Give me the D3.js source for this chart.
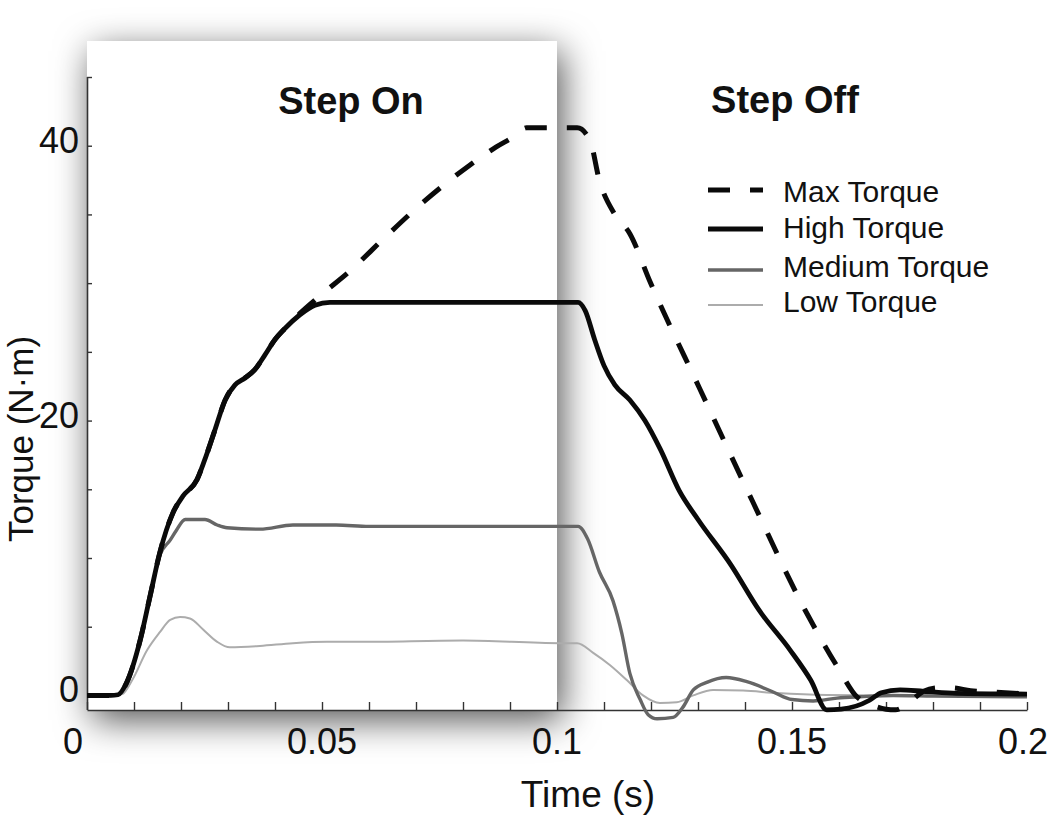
<!DOCTYPE html>
<html>
<head>
<meta charset="utf-8">
<script src="https://cdn.jsdelivr.net/npm/d3@7"></script>
<style>
  html, body { margin: 0; padding: 0; background: #fff; }
  svg { display: block; font-family: "Liberation Sans", Arial, Helvetica, sans-serif; }
</style>
</head>
<body>
<div id="chart"></div>
<script>
// ---------- DATA ----------
const xTickValues = [0, 0.01, 0.02, 0.03, 0.04, 0.05, 0.06, 0.07, 0.08, 0.09, 0.1, 0.11, 0.12, 0.13, 0.14, 0.15, 0.16, 0.17, 0.18, 0.19, 0.2];
const xTickLabels = ["0", "0.05", "0.1", "0.15", "0.2"];
const xLabelValues = [0, 0.05, 0.1, 0.15, 0.2];
const yTickValues = [0, 5, 10, 15, 20, 25, 30, 35, 40, 45];
const yLabelValues = [0, 20, 40];
const seriesNames = ["Max Torque", "High Torque", "Medium Torque", "Low Torque"];
const phaseLabels = ["Step On", "Step Off"];

const maxTime = [0, 0.005, 0.0066, 0.0084, 0.0113, 0.0134, 0.0155, 0.0183, 0.0204, 0.0234, 0.025, 0.0272, 0.0294, 0.0315, 0.0336, 0.0357, 0.0379, 0.04, 0.0421, 0.0453, 0.05, 0.056, 0.063, 0.0709, 0.0815, 0.087, 0.091, 0.0935, 0.1043, 0.107, 0.109, 0.1123, 0.1155, 0.1198, 0.1304, 0.1415, 0.1528, 0.1598, 0.1638, 0.167, 0.170, 0.172, 0.1755, 0.178, 0.181, 0.184, 0.188, 0.193, 0.2];
const maxTorque = [0, 0, 0.05, 0.9, 4, 7.2, 10.4, 13.3, 14.5, 15.7, 17.1, 19.3, 21.5, 22.6, 23.1, 23.7, 24.8, 25.9, 26.7, 27.8, 29.2, 30.9, 33.2, 35.7, 38.6, 39.9, 40.7, 41.3, 41.3, 40.4, 37.5, 35, 33.6, 30.1, 22.3, 14.2, 6.2, 2, -0.1, -0.7, -1.0, -1.05, -0.35, 0.3, 0.55, 0.55, 0.35, 0.25, 0.1];

const highTime = [0, 0.005, 0.0066, 0.0084, 0.0113, 0.0134, 0.0155, 0.0183, 0.0204, 0.0234, 0.025, 0.0272, 0.0294, 0.0315, 0.0336, 0.0357, 0.0379, 0.04, 0.0421, 0.0453, 0.0485, 0.0517, 0.07, 0.09, 0.1045, 0.106, 0.108, 0.110, 0.1123, 0.1155, 0.1187, 0.122, 0.126, 0.130, 0.137, 0.143, 0.1496, 0.154, 0.1574, 0.1605, 0.1665, 0.169, 0.173, 0.178, 0.185, 0.2];
const highTorque = [0, 0, 0.05, 0.9, 4, 7.2, 10.4, 13.3, 14.5, 15.7, 17.1, 19.3, 21.5, 22.6, 23.1, 23.7, 24.8, 25.9, 26.7, 27.7, 28.4, 28.6, 28.6, 28.6, 28.6, 28, 25.9, 24, 22.6, 21.5, 20, 17.9, 14.9, 12.8, 9.5, 6.2, 3.3, 1.1, -1.05, -1.0, -0.35, 0.2, 0.4, 0.3, 0.15, 0.1];

const mediumTime = [0, 0.005, 0.0066, 0.0084, 0.0113, 0.0134, 0.0155, 0.0177, 0.019, 0.0209, 0.0251, 0.0277, 0.0298, 0.0368, 0.0438, 0.053, 0.06, 0.08, 0.1, 0.1045, 0.1065, 0.109, 0.1119, 0.1138, 0.1155, 0.1177, 0.1194, 0.1213, 0.1247, 0.1268, 0.129, 0.132, 0.136, 0.1404, 0.146, 0.150, 0.1545, 0.1596, 0.1645, 0.1715, 0.18, 0.2];
const mediumTorque = [0, 0, 0.05, 0.9, 4, 7.2, 10.2, 11.3, 12, 12.8, 12.8, 12.4, 12.2, 12.1, 12.4, 12.4, 12.3, 12.3, 12.3, 12.3, 11.4, 9.0, 6.9, 4.5, 1.6, -0.3, -1.4, -1.7, -1.6, -0.85, 0.4, 0.97, 1.3, 1.0, 0.25, -0.3, -0.4, -0.2, -0.1, 0.0, -0.05, -0.1];

const lowTime = [0, 0.005, 0.0075, 0.0096, 0.0128, 0.0155, 0.0177, 0.0198, 0.0219, 0.0247, 0.0277, 0.0304, 0.0368, 0.0438, 0.051, 0.058, 0.08, 0.1006, 0.1043, 0.1077, 0.1113, 0.1149, 0.1183, 0.1219, 0.1255, 0.129, 0.1332, 0.1396, 0.1468, 0.1574, 0.1715, 0.2];
const lowTorque = [0, 0, 0.1, 1.1, 3.3, 4.6, 5.5, 5.7, 5.6, 4.8, 3.9, 3.5, 3.6, 3.8, 3.9, 3.9, 4.0, 3.8, 3.8, 3.1, 2.2, 1.1, 0.0, -0.55, -0.5, 0, 0.4, 0.35, 0.17, 0.03, 0, 0];

// ---------- LAYOUT ----------
const W = 1050, H = 815;
const svg = d3.select("#chart").append("svg").attr("width", W).attr("height", H);

const x = d3.scaleLinear().domain([0, 0.2]).range([87, 1027]);
const y = d3.scaleLinear().domain([-1.06, 45]).range([710, 77]);

const defs = svg.append("defs");
const f = defs.append("filter").attr("id", "shadow")
  .attr("x", "-40%").attr("y", "-40%").attr("width", "180%").attr("height", "180%");
f.append("feGaussianBlur").attr("in", "SourceAlpha").attr("stdDeviation", 18);
f.append("feOffset").attr("dx", 5).attr("dy", 10).attr("result", "ob");
f.append("feFlood").attr("flood-color", "#000").attr("flood-opacity", 0.68);
f.append("feComposite").attr("in2", "ob").attr("operator", "in").attr("result", "sh");
const fm = f.append("feMerge");
fm.append("feMergeNode").attr("in", "sh");
fm.append("feMergeNode").attr("in", "SourceGraphic");

// Step On panel
svg.append("rect")
  .attr("x", x(0)).attr("y", 41)
  .attr("width", x(0.1) - x(0)).attr("height", y(-1.06) - 41)
  .attr("fill", "#fff").attr("filter", "url(#shadow)");

// ---------- AXES ----------
const axisColor = "#333";
const xAxis = svg.append("g").attr("transform", `translate(0,${y(-1.06)})`)
  .call(d3.axisBottom(x).tickValues(xTickValues).tickSizeInner(-8).tickSizeOuter(0).tickFormat(""));
xAxis.select(".domain").attr("stroke", axisColor).attr("stroke-width", 1.6);
xAxis.selectAll(".tick line").attr("stroke", axisColor).attr("stroke-width", 1.4);

const yAxis = svg.append("g").attr("transform", `translate(${x(0)},0)`)
  .call(d3.axisLeft(y).tickValues(yTickValues).tickSizeInner(-5).tickSizeOuter(0).tickFormat(""));
yAxis.select(".domain").attr("stroke", axisColor).attr("stroke-width", 1.6)
  .attr("d", `M0.5,${y(45)}V${y(-1.06)}`);
yAxis.selectAll(".tick line").attr("stroke", axisColor).attr("stroke-width", 1.4);

// tick labels
svg.append("g").selectAll("text").data(xLabelValues).join("text")
  .attr("x", (d, i) => x(d) + (i === 0 ? -14 : (i === 4 ? -4 : 0)))
  .attr("y", 754)
  .attr("text-anchor", "middle")
  .attr("font-size", 36)
  .attr("fill", "#111")
  .text((d, i) => xTickLabels[i]);

svg.append("g").selectAll("text").data(yLabelValues).join("text")
  .attr("x", 79)
  .attr("y", d => y(d) + 7)
  .attr("text-anchor", "end")
  .attr("font-size", 36)
  .attr("fill", "#111")
  .text(d => String(d));

// axis titles
svg.append("text")
  .attr("x", 588).attr("y", 807)
  .attr("text-anchor", "middle").attr("font-size", 37).attr("fill", "#111")
  .text("Time (s)");
svg.append("text")
  .attr("transform", "translate(33,439) rotate(-90)")
  .attr("text-anchor", "middle").attr("font-size", 35).attr("fill", "#111")
  .text("Torque (N·m)");

// phase labels
svg.append("text").attr("x", 351).attr("y", 114).attr("text-anchor", "middle")
  .attr("font-size", 38).attr("font-weight", "bold").attr("fill", "#111").text(phaseLabels[0]);
svg.append("text").attr("x", 785).attr("y", 113).attr("text-anchor", "middle")
  .attr("font-size", 38).attr("font-weight", "bold").attr("fill", "#111").text(phaseLabels[1]);

// ---------- LINES ----------
const styles = [
  { color: "#0a0a0a", width: 5, dash: "22,20" },
  { color: "#0a0a0a", width: 4.8, dash: null },
  { color: "#666666", width: 3.4, dash: null },
  { color: "#acacac", width: 2, dash: null }
];
const series = [
  { t: maxTime, v: maxTorque },
  { t: highTime, v: highTorque },
  { t: mediumTime, v: mediumTorque },
  { t: lowTime, v: lowTorque }
];
const line = d3.line().x(d => x(d[0])).y(d => y(d[1])).curve(d3.curveMonotoneX);

const drawOrder = [3, 2, 1, 0];
drawOrder.forEach(i => {
  const s = series[i];
  const pts = s.t.map((t, k) => [t, s.v[k]]);
  svg.append("path").datum(pts)
    .attr("d", line)
    .attr("fill", "none")
    .attr("stroke", styles[i].color)
    .attr("stroke-width", styles[i].width)
    .attr("stroke-linejoin", "round")
    .attr("stroke-dasharray", styles[i].dash);
});

// ---------- LEGEND ----------
const legendLineY = [190, 229, 270, 305];
const legendTextY = [202, 238, 277, 312];
const lg = svg.append("g");
seriesNames.forEach((name, i) => {
  lg.append("line")
    .attr("x1", 708).attr("x2", 763)
    .attr("y1", legendLineY[i]).attr("y2", legendLineY[i])
    .attr("stroke", styles[i].color)
    .attr("stroke-width", styles[i].width)
    .attr("stroke-dasharray", styles[i].dash);
  lg.append("text")
    .attr("x", 783).attr("y", legendTextY[i])
    .attr("font-size", 30).attr("fill", "#111")
    .text(name);
});
</script>
</body>
</html>
